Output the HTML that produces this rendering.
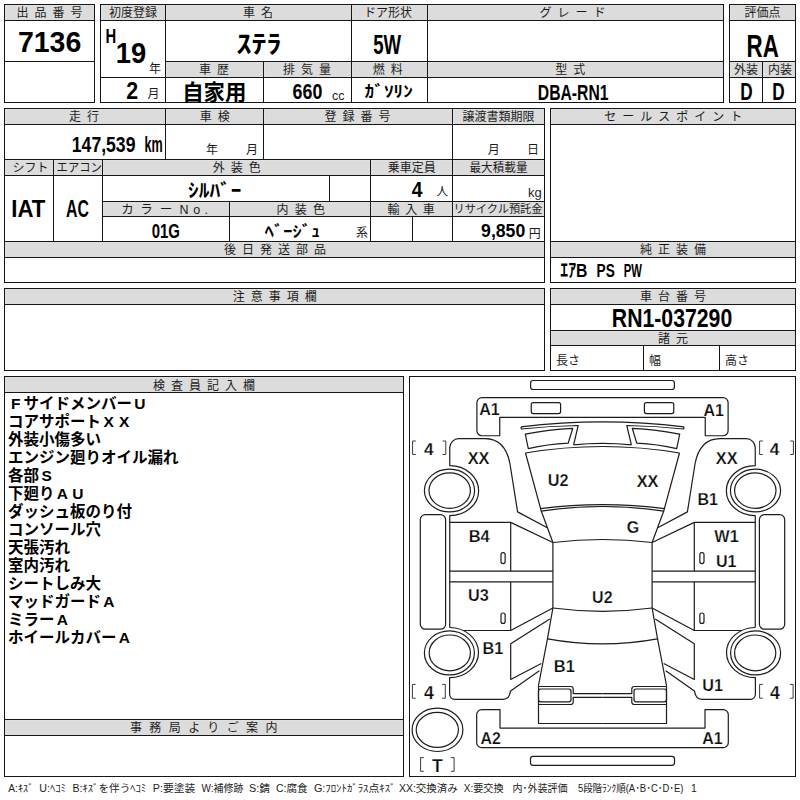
<!DOCTYPE html>
<html><head><meta charset="utf-8"><title>sheet</title>
<style>html,body{margin:0;padding:0;background:#fff;font-family:"Liberation Sans",sans-serif}svg{display:block}
text{font-family:"Liberation Sans","Noto Sans CJK JP",sans-serif}
.l{font-size:12px;fill:#1c1c1c}
.b{font-weight:bold;fill:#000}
.n{font-size:15.5px;font-weight:bold;fill:#000}
.f{font-size:10.4px;fill:#222}
.d{font-weight:bold;fill:#0a0a0a;stroke:#fff;stroke-width:0.25}
</style>
</head><body>
<svg width="800" height="800" viewBox="0 0 800 800">
<rect x="0" y="0" width="800" height="800" fill="#fff"/>
<rect x="5.15" y="5.15" width="88.85" height="14.85" fill="#dcdcdc"/>
<rect x="4" y="4" width="91" height="1" fill="#161616"/>
<rect x="4" y="102" width="91" height="1" fill="#161616"/>
<rect x="4" y="4" width="1" height="99" fill="#161616"/>
<rect x="94" y="4" width="1" height="99" fill="#161616"/>
<rect x="4" y="20" width="91" height="1" fill="#161616"/>
<rect x="4" y="61" width="91" height="1" fill="#161616"/>
<text class="l" x="16.5" y="17.06" letter-spacing="6">出品番号</text>
<text class="b" x="17.91" y="52.14" font-size="30" textLength="63.4" lengthAdjust="spacingAndGlyphs">7136</text>
<rect x="101.15" y="5.15" width="63.85" height="14.85" fill="#dcdcdc"/>
<rect x="166.15" y="5.15" width="184.85" height="14.85" fill="#dcdcdc"/>
<rect x="352.15" y="5.15" width="74.85" height="14.85" fill="#dcdcdc"/>
<rect x="428.15" y="5.15" width="294.85" height="14.85" fill="#dcdcdc"/>
<rect x="166.15" y="62.15" width="96.85" height="14.85" fill="#dcdcdc"/>
<rect x="264.15" y="62.15" width="86.85" height="14.85" fill="#dcdcdc"/>
<rect x="352.15" y="62.15" width="74.85" height="14.85" fill="#dcdcdc"/>
<rect x="428.15" y="62.15" width="294.85" height="14.85" fill="#dcdcdc"/>
<rect x="100" y="4" width="624" height="1" fill="#161616"/>
<rect x="100" y="102" width="624" height="1" fill="#161616"/>
<rect x="100" y="4" width="1" height="99" fill="#161616"/>
<rect x="723" y="4" width="1" height="99" fill="#161616"/>
<rect x="100" y="20" width="624" height="1" fill="#161616"/>
<rect x="165" y="61" width="559" height="1" fill="#161616"/>
<rect x="100" y="77" width="624" height="1" fill="#161616"/>
<rect x="165" y="4" width="1" height="99" fill="#161616"/>
<rect x="351" y="4" width="1" height="99" fill="#161616"/>
<rect x="427" y="4" width="1" height="99" fill="#161616"/>
<rect x="263" y="61" width="1" height="42" fill="#161616"/>
<text class="l" x="109" y="17.06">初度登録</text>
<text class="l" x="243" y="17.06" letter-spacing="6">車名</text>
<text class="l" x="364" y="17.06">ドア形状</text>
<text class="l" x="539.4" y="17.06" letter-spacing="6">グレード</text>
<text class="l" x="199" y="74.06" letter-spacing="6">車歴</text>
<text class="l" x="283" y="74.06" letter-spacing="6">排気量</text>
<text class="l" x="372.8" y="74.06" letter-spacing="6">燃料</text>
<text class="l" x="555.3" y="74.06" letter-spacing="6">型式</text>
<text class="b" x="105.54" y="42.5" font-size="20" textLength="10.7" lengthAdjust="spacingAndGlyphs">H</text>
<text class="b" x="115.79" y="63.41" font-size="29" textLength="30.4" lengthAdjust="spacingAndGlyphs">19</text>
<text class="l" x="149" y="72.96">年</text>
<text class="b" x="126.21" y="98.75" font-size="23" textLength="11.9" lengthAdjust="spacingAndGlyphs">2</text>
<text class="l" x="147.5" y="98.31">月</text>
<text class="b" x="236.5" y="52.93" font-size="25" textLength="45.2" lengthAdjust="spacingAndGlyphs">ｽﾃﾗ</text>
<text class="b" x="373.22" y="53.68" font-size="27.5" textLength="27.9" lengthAdjust="spacingAndGlyphs">5W</text>
<text class="b" x="182.22" y="100.47" font-size="22" textLength="64.2" lengthAdjust="spacingAndGlyphs">自家用</text>
<text class="b" x="292.61" y="99.24" font-size="22" textLength="29.7" lengthAdjust="spacingAndGlyphs">660</text>
<text x="331.96" y="100.21" font-size="13" fill="#1c1c1c" textLength="12.4" lengthAdjust="spacingAndGlyphs">cc</text>
<text class="b" x="364.61" y="97.22" font-size="16" textLength="48.25" lengthAdjust="spacingAndGlyphs">ｶﾞｿﾘﾝ</text>
<text class="b" x="537.84" y="99.75" font-size="22" textLength="70.7" lengthAdjust="spacingAndGlyphs">DBA-RN1</text>
<rect x="730.15" y="5.15" width="64.85" height="14.85" fill="#dcdcdc"/>
<rect x="730.15" y="62.15" width="31.85" height="14.85" fill="#dcdcdc"/>
<rect x="763.15" y="62.15" width="31.85" height="14.85" fill="#dcdcdc"/>
<rect x="729" y="4" width="67" height="1" fill="#161616"/>
<rect x="729" y="102" width="67" height="1" fill="#161616"/>
<rect x="729" y="4" width="1" height="99" fill="#161616"/>
<rect x="795" y="4" width="1" height="99" fill="#161616"/>
<rect x="729" y="20" width="67" height="1" fill="#161616"/>
<rect x="729" y="61" width="67" height="1" fill="#161616"/>
<rect x="729" y="77" width="67" height="1" fill="#161616"/>
<rect x="762" y="61" width="1" height="42" fill="#161616"/>
<text class="l" x="744.5" y="17.06">評価点</text>
<text class="l" x="734" y="74.06">外装</text>
<text class="l" x="768" y="74.06">内装</text>
<text class="b" x="746.55" y="56.7" font-size="31.5" textLength="32.2" lengthAdjust="spacingAndGlyphs">RA</text>
<text class="b" x="740.28" y="100" font-size="24.5" textLength="12.4" lengthAdjust="spacingAndGlyphs">D</text>
<text class="b" x="772.18" y="100" font-size="24.5" textLength="12.4" lengthAdjust="spacingAndGlyphs">D</text>
<rect x="5.15" y="109.15" width="159.85" height="14.85" fill="#dcdcdc"/>
<rect x="166.15" y="109.15" width="96.85" height="14.85" fill="#dcdcdc"/>
<rect x="264.15" y="109.15" width="187.85" height="14.85" fill="#dcdcdc"/>
<rect x="453.15" y="109.15" width="90.85" height="14.85" fill="#dcdcdc"/>
<rect x="5.15" y="160.15" width="47.85" height="14.85" fill="#dcdcdc"/>
<rect x="54.15" y="160.15" width="47.85" height="14.85" fill="#dcdcdc"/>
<rect x="103.15" y="160.15" width="266.85" height="14.85" fill="#dcdcdc"/>
<rect x="371.15" y="160.15" width="80.85" height="14.85" fill="#dcdcdc"/>
<rect x="453.15" y="160.15" width="90.85" height="14.85" fill="#dcdcdc"/>
<rect x="103.15" y="202.15" width="125.85" height="13.85" fill="#dcdcdc"/>
<rect x="230.15" y="202.15" width="139.85" height="13.85" fill="#dcdcdc"/>
<rect x="371.15" y="202.15" width="80.85" height="13.85" fill="#dcdcdc"/>
<rect x="453.15" y="202.15" width="90.85" height="13.85" fill="#dcdcdc"/>
<rect x="5.15" y="242.15" width="538.85" height="14.85" fill="#dcdcdc"/>
<rect x="4" y="108" width="541" height="1" fill="#161616"/>
<rect x="4" y="282" width="541" height="1" fill="#161616"/>
<rect x="4" y="108" width="1" height="175" fill="#161616"/>
<rect x="544" y="108" width="1" height="175" fill="#161616"/>
<rect x="4" y="124" width="541" height="1" fill="#161616"/>
<rect x="4" y="159" width="541" height="1" fill="#161616"/>
<rect x="4" y="175" width="541" height="1" fill="#161616"/>
<rect x="102" y="201" width="443" height="1" fill="#161616"/>
<rect x="102" y="216" width="443" height="1" fill="#161616"/>
<rect x="4" y="241" width="541" height="1" fill="#161616"/>
<rect x="4" y="257" width="541" height="1" fill="#161616"/>
<rect x="165" y="108" width="1" height="52" fill="#161616"/>
<rect x="263" y="108" width="1" height="52" fill="#161616"/>
<rect x="452" y="108" width="1" height="134" fill="#161616"/>
<rect x="53" y="159" width="1" height="83" fill="#161616"/>
<rect x="102" y="159" width="1" height="83" fill="#161616"/>
<rect x="370" y="159" width="1" height="83" fill="#161616"/>
<rect x="329" y="175" width="1" height="27" fill="#161616"/>
<rect x="229" y="201" width="1" height="41" fill="#161616"/>
<rect x="412" y="216" width="1" height="26" fill="#161616"/>
<text class="l" x="69" y="121.06" letter-spacing="6">走行</text>
<text class="l" x="199.7" y="121.06" letter-spacing="6">車検</text>
<text class="l" x="324.5" y="121.06" letter-spacing="6">登録番号</text>
<text class="l" x="462.5" y="121.06">譲渡書類期限</text>
<text class="b" x="71.83" y="151.54" font-size="22" textLength="63.6" lengthAdjust="spacingAndGlyphs">147,539</text>
<text class="b" x="144.55" y="151.54" font-size="22" textLength="18.2" lengthAdjust="spacingAndGlyphs">km</text>
<text class="l" x="206" y="154.31">年</text>
<text class="l" x="246" y="154.31">月</text>
<text class="l" x="487.75" y="154.31">月</text>
<text class="l" x="527" y="154.31">日</text>
<text class="l" x="12.4" y="172.06">シフト</text>
<text class="l" x="56.62" y="172.1" textLength="45.3" lengthAdjust="spacingAndGlyphs">エアコン</text>
<text class="l" x="212.8" y="172.06" letter-spacing="6">外装色</text>
<text class="l" x="387.8" y="172.06">乗車定員</text>
<text class="l" x="469.5" y="172.1" textLength="58" lengthAdjust="spacingAndGlyphs">最大積載量</text>
<text class="b" x="11.34" y="217" font-size="23.7" textLength="34.1" lengthAdjust="spacingAndGlyphs">IAT</text>
<text class="b" x="66.09" y="217" font-size="23.7" textLength="22.9" lengthAdjust="spacingAndGlyphs">AC</text>
<text class="b" x="188.09" y="196.56" font-size="18.7" textLength="53.4" lengthAdjust="spacingAndGlyphs">ｼﾙﾊﾞｰ</text>
<text class="b" x="411.86" y="197" font-size="22" textLength="10.75" lengthAdjust="spacingAndGlyphs">4</text>
<text class="l" x="436.3" y="196.46">人</text>
<text x="528.12" y="196.52" font-size="13.7" fill="#1c1c1c" textLength="13.7" lengthAdjust="spacingAndGlyphs">kg</text>
<text y="214.05" font-size="12.5" fill="#1c1c1c"><tspan x="121.35">カ</tspan><tspan x="140.15">ラ</tspan><tspan x="159.65">ー</tspan><tspan x="179.5">N</tspan><tspan x="193.3">o</tspan><tspan x="204.5">.</tspan></text>
<text class="l" x="276.6" y="213.8" letter-spacing="6.25">内装色</text>
<text class="l" x="387.58" y="213.6" letter-spacing="5.57">輸入車</text>
<text x="453.49" y="212.9" font-size="11.3" fill="#1c1c1c" textLength="89" lengthAdjust="spacingAndGlyphs">リサイクル預託金</text>
<text class="b" x="151.77" y="237.6" font-size="19.3" textLength="28.2" lengthAdjust="spacingAndGlyphs">01G</text>
<text class="b" x="264.83" y="236.73" font-size="15.4" textLength="55.3" lengthAdjust="spacingAndGlyphs">ﾍﾞｰｼﾞｭ</text>
<text class="l" x="356.1" y="236.81">系</text>
<text class="b" x="481.07" y="236.88" font-size="19" textLength="44.2" lengthAdjust="spacingAndGlyphs">9,850</text>
<text class="l" x="528.65" y="237.71">円</text>
<text class="l" x="224" y="254.06" letter-spacing="6">後日発送部品</text>
<rect x="551.15" y="109.15" width="243.85" height="14.85" fill="#dcdcdc"/>
<rect x="551.15" y="242.15" width="243.85" height="14.85" fill="#dcdcdc"/>
<rect x="550" y="108" width="246" height="1" fill="#161616"/>
<rect x="550" y="282" width="246" height="1" fill="#161616"/>
<rect x="550" y="108" width="1" height="175" fill="#161616"/>
<rect x="795" y="108" width="1" height="175" fill="#161616"/>
<rect x="550" y="124" width="246" height="1" fill="#161616"/>
<rect x="550" y="241" width="246" height="1" fill="#161616"/>
<rect x="550" y="257" width="246" height="1" fill="#161616"/>
<text class="l" x="604.25" y="121.06" letter-spacing="6">セールスポイント</text>
<text class="l" x="640" y="254.06" letter-spacing="6">純正装備</text>
<text class="b" x="560.29" y="276.9" font-size="18.9" textLength="27.2" lengthAdjust="spacingAndGlyphs">ｴｱB</text>
<text class="b" x="596.59" y="276.9" font-size="18.9" textLength="18.15" lengthAdjust="spacingAndGlyphs">PS</text>
<text class="b" x="623.8" y="276.9" font-size="18.9" textLength="18.15" lengthAdjust="spacingAndGlyphs">PW</text>
<rect x="5.15" y="289.15" width="538.85" height="14.85" fill="#dcdcdc"/>
<rect x="4" y="288" width="541" height="1" fill="#161616"/>
<rect x="4" y="370" width="541" height="1" fill="#161616"/>
<rect x="4" y="288" width="1" height="83" fill="#161616"/>
<rect x="544" y="288" width="1" height="83" fill="#161616"/>
<rect x="4" y="304" width="541" height="1" fill="#161616"/>
<text class="l" x="232.7" y="301.16" letter-spacing="6">注意事項欄</text>
<rect x="551.15" y="289.15" width="243.85" height="14.85" fill="#dcdcdc"/>
<rect x="551.15" y="331.15" width="243.85" height="13.85" fill="#dcdcdc"/>
<rect x="550" y="288" width="246" height="1" fill="#161616"/>
<rect x="550" y="370" width="246" height="1" fill="#161616"/>
<rect x="550" y="288" width="1" height="83" fill="#161616"/>
<rect x="795" y="288" width="1" height="83" fill="#161616"/>
<rect x="550" y="304" width="246" height="1" fill="#161616"/>
<rect x="550" y="330" width="246" height="1" fill="#161616"/>
<rect x="550" y="345" width="246" height="1" fill="#161616"/>
<rect x="643" y="345" width="1" height="26" fill="#161616"/>
<rect x="719" y="345" width="1" height="26" fill="#161616"/>
<text class="l" x="640" y="301.16" letter-spacing="6">車台番号</text>
<text class="b" x="611.82" y="326.9" font-size="26" textLength="120.4" lengthAdjust="spacingAndGlyphs">RN1-037290</text>
<text class="l" x="658" y="342.56" letter-spacing="6">諸元</text>
<text class="l" x="556" y="364.56">長さ</text>
<text class="l" x="649" y="364.56">幅</text>
<text class="l" x="725" y="364.56">高さ</text>
<rect x="5.15" y="377.15" width="397.85" height="14.85" fill="#dcdcdc"/>
<rect x="5.15" y="720.15" width="397.85" height="14.85" fill="#dcdcdc"/>
<rect x="4" y="376" width="400" height="1" fill="#161616"/>
<rect x="4" y="776" width="400" height="1" fill="#161616"/>
<rect x="4" y="376" width="1" height="401" fill="#161616"/>
<rect x="403" y="376" width="1" height="401" fill="#161616"/>
<rect x="4" y="392" width="400" height="1" fill="#161616"/>
<rect x="4" y="719" width="400" height="1" fill="#161616"/>
<rect x="4" y="735" width="400" height="1" fill="#161616"/>
<text class="l" x="153" y="389.56" letter-spacing="6">検査員記入欄</text>
<text class="l" x="129.96" y="732.1" letter-spacing="7.4">事務局よりご案内</text>
<text class="n" y="409" x="11 23.5 39 54.5 70 85.5 101 116.5 134.2">FサイドメンバーU</text>
<text class="n" y="427" x="8 23.5 39 54.5 70 85.5 103.6 119.1">コアサポートXX</text>
<text class="n" y="445" x="8 23.5 39 54.5 70 85.5">外装小傷多い</text>
<text class="n" y="463" x="8 23.5 39 54.5 70 85.5 101 116.5 132 147.5 163">エンジン廻りオイル漏れ</text>
<text class="n" y="481" x="8 23.5 41.6">各部S</text>
<text class="n" y="499" x="8 23.5 39 56.7 72.2">下廻りAU</text>
<text class="n" y="517" x="8 23.5 39 54.5 70 85.5 101 116.5">ダッシュ板のり付</text>
<text class="n" y="535" x="8 23.5 39 54.5 70 85.5">コンソール穴</text>
<text class="n" y="553" x="8 23.5 39 54.5">天張汚れ</text>
<text class="n" y="571" x="8 23.5 39 54.5">室内汚れ</text>
<text class="n" y="589" x="8 23.5 39 54.5 70 85.5">シートしみ大</text>
<text class="n" y="607" x="8 23.5 39 54.5 70 85.5 103.2">マッドガードA</text>
<text class="n" y="625" x="8 23.5 39 56.7">ミラーA</text>
<text class="n" y="643" x="8 23.5 39 54.5 70 85.5 101 118.7">ホイールカバーA</text>
<rect x="409" y="376" width="387" height="1" fill="#161616"/>
<rect x="409" y="776" width="387" height="1" fill="#161616"/>
<rect x="409" y="376" width="1" height="401" fill="#161616"/>
<rect x="795" y="376" width="1" height="401" fill="#161616"/>
<text class="f" x="8.19" y="792.2" textLength="25.1" lengthAdjust="spacingAndGlyphs">A:ｷｽﾞ</text>
<text class="f" x="39.28" y="792.2" textLength="26.6" lengthAdjust="spacingAndGlyphs">U:ﾍｺﾐ</text>
<text class="f" x="72.49" y="792.2" textLength="73.7" lengthAdjust="spacingAndGlyphs">B:ｷｽﾞを伴うﾍｺﾐ</text>
<text class="f" x="152.86" y="792.2" textLength="42.4" lengthAdjust="spacingAndGlyphs">P:要塗装</text>
<text class="f" x="201.5" y="792.2" textLength="41.9" lengthAdjust="spacingAndGlyphs">W:補修跡</text>
<text class="f" x="249.12" y="792.2" textLength="21.1" lengthAdjust="spacingAndGlyphs">S:錆</text>
<text class="f" x="275.91" y="792.2" textLength="31.8" lengthAdjust="spacingAndGlyphs">C:腐食</text>
<text class="f" x="313.9" y="792.2" textLength="81.6" lengthAdjust="spacingAndGlyphs">G:ﾌﾛﾝﾄｶﾞﾗｽ点ｷｽﾞ</text>
<text class="f" x="399.02" y="792.2" textLength="58.7" lengthAdjust="spacingAndGlyphs">XX:交換済み</text>
<text class="f" x="463.75" y="792.2" textLength="39.8" lengthAdjust="spacingAndGlyphs">X:要交換</text>
<text class="f" x="512.45" y="792.2" textLength="55.1" lengthAdjust="spacingAndGlyphs">内･外装評価</text>
<text class="f" x="577.88" y="792.2" textLength="105.6" lengthAdjust="spacingAndGlyphs">5段階ﾗﾝｸ順(A･B･C･D･E)</text>
<text class="f" x="691" y="792.2">1</text>
<g fill="none" stroke="#1c1c1c" stroke-width="1.2" stroke-linejoin="round">
<g id="dl"><rect x="531.25" y="402.6" width="29.35" height="11" rx="2" ry="2"/><path d="M449.75 627.5 V515.65 A28.85 25 0 0 0 449.75 465.6 V447.7 A9 9 0 0 1 458.75 438.7 H485 C499 438.7 507 448 510 464 L517.6 511.9 L547.3 527.75"/><path d="M449.75 522.4 H510.7 L552.9 542.5"/><path d="M510.7 522.4 V571.2 M510.7 581.9 V630.5"/><path d="M449.75 571.2 H552.9 M449.75 581.9 H552.9"/><path d="M552.9 542.5 V608"/><path d="M525.5 453 L541.25 511 L552.9 542.5"/><path d="M521 426.9 L521.3 429 Q550 426 578.2 425.5 L573.6 444.9"/><path d="M525.3 434.1 Q548.5 429.4 572.75 428.3 L568.2 443.2 Q547.5 444.2 528.3 448.7 Z"/><path d="M463.5 630.5 H510.7 L552.9 608"/><path d="M449.6 627.5 A28.9 25.1 0 0 1 449.6 677.7 V694.3 A5 5 0 0 0 454.6 699.3 H503 C507.5 699.3 509.3 697 510.6 691 L539.3 670.8"/><path d="M549.8 619 L510.7 643.7 V679.5 L541.3 663.5"/><path d="M552.9 608 L547.4 639.2 L538.4 686 V686.3"/><path d="M538.5 686.5 H570.7 A2.5 2.5 0 0 1 573.2 689 V693.6 H602.5 M602.5 697.3 H573.2 V702 A2.5 2.5 0 0 1 570.7 704.5 H538.5"/><rect x="538.5" y="689" width="32.5" height="12.8" rx="2.2" ry="2.2"/><path d="M538.5 686.5 V723.5 H602.5"/><rect x="420.3" y="514.7" width="25.3" height="114.5" rx="5" ry="5"/><ellipse cx="449.5" cy="490.5" rx="25.1" ry="21.4"/><ellipse cx="449.7" cy="490.6" rx="20.7" ry="17.75"/><ellipse cx="449.4" cy="652.9" rx="25" ry="22"/><ellipse cx="449.8" cy="652.9" rx="20.6" ry="17.9"/><rect x="501" y="552.6" width="4.15" height="11" rx="2" ry="2"/><rect x="501" y="613" width="4.15" height="10.4" rx="2" ry="2"/></g>
<use href="#dl" transform="translate(1205 0) scale(-1 1)"/>
<rect x="530.6" y="380.5" width="143.8" height="9" rx="2.5" ry="2.5"/><rect x="530.5" y="756.3" width="144" height="9" rx="2.5" ry="2.5"/><path d="M499.75 435.75 H481.9 A5 5 0 0 1 476.9 430.75 V402.6 A5 5 0 0 1 481.9 397.6 H723.1 A5 5 0 0 1 728.1 402.6 V430.75 A5 5 0 0 1 723.1 435.75 H705.25 V417.4 H499.75 Z"/><path d="M500 709.6 H481.7 A5 5 0 0 0 476.7 714.6 V742.65 A5 5 0 0 0 481.7 747.65 H723.3 A5 5 0 0 0 728.3 742.65 V714.6 A5 5 0 0 0 723.3 709.6 H705 V728.1 H500 Z"/><path d="M552.9 542.5 Q602.5 536.5 652.1 542.5"/><path d="M552.9 608 Q602.5 614.6 652.1 608"/><path d="M525.5 453 Q602.5 440 679.5 453"/><path d="M540.15 508.7 Q602.5 500.5 664.85 508.7"/><path d="M541.25 511.1 Q602.5 501.9 663.75 511.1"/><path d="M521 426.9 Q602.5 416.9 684 426.9"/><path d="M573.6 444.9 Q602.5 441.9 631.4 444.9"/><path d="M547.6 638.9 Q602.5 649 657.4 638.9"/><ellipse cx="437.5" cy="729.85" rx="25.4" ry="21.65"/><ellipse cx="437.3" cy="729.85" rx="21.1" ry="17.5"/>
</g>
<text class="d" x="479.21" y="415.43" font-size="16">A1</text>
<text class="d" x="703.56" y="415.82" font-size="16">A1</text>
<text class="d" x="467.72" y="463.62" font-size="16.3">XX</text>
<text class="d" x="715.87" y="463.88" font-size="16.3">XX</text>
<text class="d" x="547.8" y="486.39" font-size="16.3">U2</text>
<text class="d" x="636.63" y="486.73" font-size="16.3">XX</text>
<text class="d" x="697.5" y="505.32" font-size="16.1">B1</text>
<text class="d" x="626.8" y="532.6" font-size="16">G</text>
<text class="d" x="468.7" y="541.62" font-size="16.5">B4</text>
<text class="d" x="714.3" y="542.12" font-size="16.3">W1</text>
<text class="d" x="715.9" y="567.1" font-size="16.1">U1</text>
<text class="d" x="468.1" y="600.64" font-size="16.3">U3</text>
<text class="d" x="592.1" y="602.5" font-size="16">U2</text>
<text class="d" x="482.4" y="654.42" font-size="16.3">B1</text>
<text class="d" x="553.8" y="671.62" font-size="16.5">B1</text>
<text class="d" x="702.2" y="690.64" font-size="16.2">U1</text>
<text class="d" x="480.61" y="744.48" font-size="15.8">A2</text>
<text class="d" x="702.3" y="744.42" font-size="15.9">A1</text>
<path d="M415.8 441H412.6V454.5H415.8 M442.6 441H445.8V454.5H442.6" fill="none" stroke="#3a3a3a" stroke-width="1"/>
<text class="d" x="424" y="454.82" font-size="17.3">4</text>
<path d="M762.8 441H759.6V454.5H762.8 M790.2 441H793.4V454.5H790.2" fill="none" stroke="#3a3a3a" stroke-width="1"/>
<text class="d" x="769.8" y="454.82" font-size="17.3">4</text>
<path d="M415.6 684.4H412.4V698.2H415.6 M442.1 684.4H445.3V698.2H442.1" fill="none" stroke="#3a3a3a" stroke-width="1"/>
<text class="d" x="424" y="698.53" font-size="17.7">4</text>
<path d="M762.8 684.4H759.6V698.2H762.8 M789.9 684.4H793.1V698.2H789.9" fill="none" stroke="#3a3a3a" stroke-width="1"/>
<text class="d" x="770.1" y="698.53" font-size="17.7">4</text>
<path d="M423.8 757.6H420.6V771.3H423.8 M450.9 757.6H454.1V771.3H450.9" fill="none" stroke="#3a3a3a" stroke-width="1"/>
<text class="d" x="432.1" y="771.62" font-size="17.6">T</text>
</svg>
</body></html>
